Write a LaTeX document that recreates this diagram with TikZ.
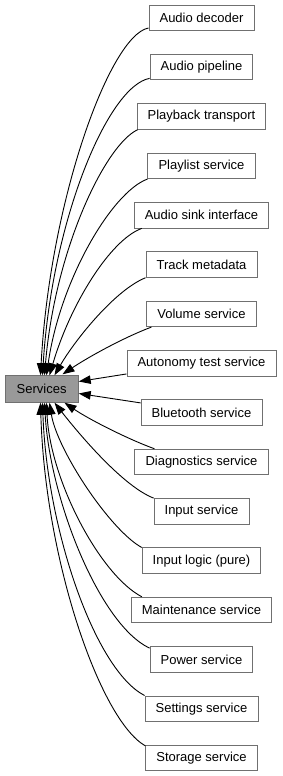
\documentclass[tikz,border=0pt]{standalone}
\usepackage{fontspec}
\setmainfont{Liberation Sans}
\usetikzlibrary{arrows.meta,calc}
\definecolor{boxborder}{HTML}{707070}
\definecolor{servfill}{HTML}{999999}
\begin{document}
\begin{tikzpicture}[x=1pt,y=-1pt,
  box/.style={draw=boxborder, fill=white, line width=0.9pt, minimum height=25.5pt,
    inner xsep=10.6pt, inner ysep=0pt, font=\fontsize{13}{15}\selectfont, text=black},
  link/.style={draw=black, line width=0.9pt, -{Triangle[length=12pt,width=8.5pt]}}]
\useasboundingbox (0,0) rectangle (283,776);
% module nodes
\node[box] (dec)   at (201.5,17.8)   {Audio decoder};
\node[box] (pipe)  at (201.5,67.15)  {Audio pipeline};
\node[box] (play)  at (201.5,116.5)  {Playback transport};
\node[box] (plist) at (201.5,165.85) {Playlist service};
\node[box] (sink)  at (201.5,215.2)  {Audio sink interface};
\node[box] (track) at (201.5,264.55) {Track metadata};
\node[box] (vol)   at (201.5,313.9)  {Volume service};
\node[box] (auto)  at (201.5,363.25) {Autonomy test service};
\node[box] (blue)  at (201.5,412.6)  {Bluetooth service};
\node[box] (diag)  at (201.5,461.95) {Diagnostics service};
\node[box] (insrv) at (201.5,511.3)  {Input service};
\node[box] (inlog) at (201.5,560.65) {Input logic (pure)};
\node[box] (maint) at (201.5,610)    {Maintenance service};
\node[box] (power) at (201.5,659.35) {Power service};
\node[box] (sett)  at (201.5,708.7)  {Settings service};
\node[box] (stor)  at (201.5,758.05) {Storage service};
% central node
\node[box, fill=servfill, minimum width=73.3pt, minimum height=26.5pt, inner xsep=0pt] (serv) at (41.6,389) {Services};
% connectors
\draw[link] ([yshift=3pt]dec.south west) .. controls (110,35) and (50,200) .. ([xshift=36pt]serv.north west);
\draw[link] ([yshift=2pt]pipe.south west) .. controls (108,86) and (52,220) .. ([xshift=38pt]serv.north west);
\draw[link] ([xshift=1pt]play.south west) .. controls (105,145) and (55,250) .. ([xshift=40pt]serv.north west);
\draw[link] (plist.south west) .. controls (112,192) and (60,280) .. ([xshift=42pt]serv.north west);
\draw[link] ([xshift=8pt]sink.south west) .. controls (110,240) and (70,305) .. ([xshift=45pt]serv.north west);
\draw[link] (track.south west) .. controls (115,290) and (75,340) .. ([xshift=50pt]serv.north west);
\draw[link] ([xshift=5pt]vol.south west) .. controls (125,337) and (90,356) .. ([xshift=58pt,yshift=1pt]serv.north west);
\draw[link] ([yshift=2.5pt]auto.south west) -- ([yshift=7.5pt]serv.east);
\draw[link] ([yshift=-3.5pt]blue.north west) -- ([yshift=-4.5pt]serv.east);
\draw[link] ([xshift=20pt]diag.north west) .. controls (130,440) and (90,420) .. ([xshift=60pt]serv.south west);
\draw[link] (insrv.north west) .. controls (120,485) and (72,425) .. ([xshift=50pt]serv.south west);
\draw[link] (inlog.north west) .. controls (110,530) and (57,450) .. ([xshift=45pt]serv.south west);
\draw[link] ([xshift=11pt]maint.north west) .. controls (100,575) and (50,480) .. ([xshift=42pt]serv.south west);
\draw[link] ([yshift=-2pt]power.north west) .. controls (100,625) and (50,500) .. ([xshift=40pt]serv.south west);
\draw[link] (sett.north west) .. controls (95,670) and (47,530) .. ([xshift=38pt]serv.south west);
\draw[link] ([yshift=-1pt]stor.north west) .. controls (100,720) and (45,560) .. ([xshift=36pt]serv.south west);
\end{tikzpicture}
\end{document}
